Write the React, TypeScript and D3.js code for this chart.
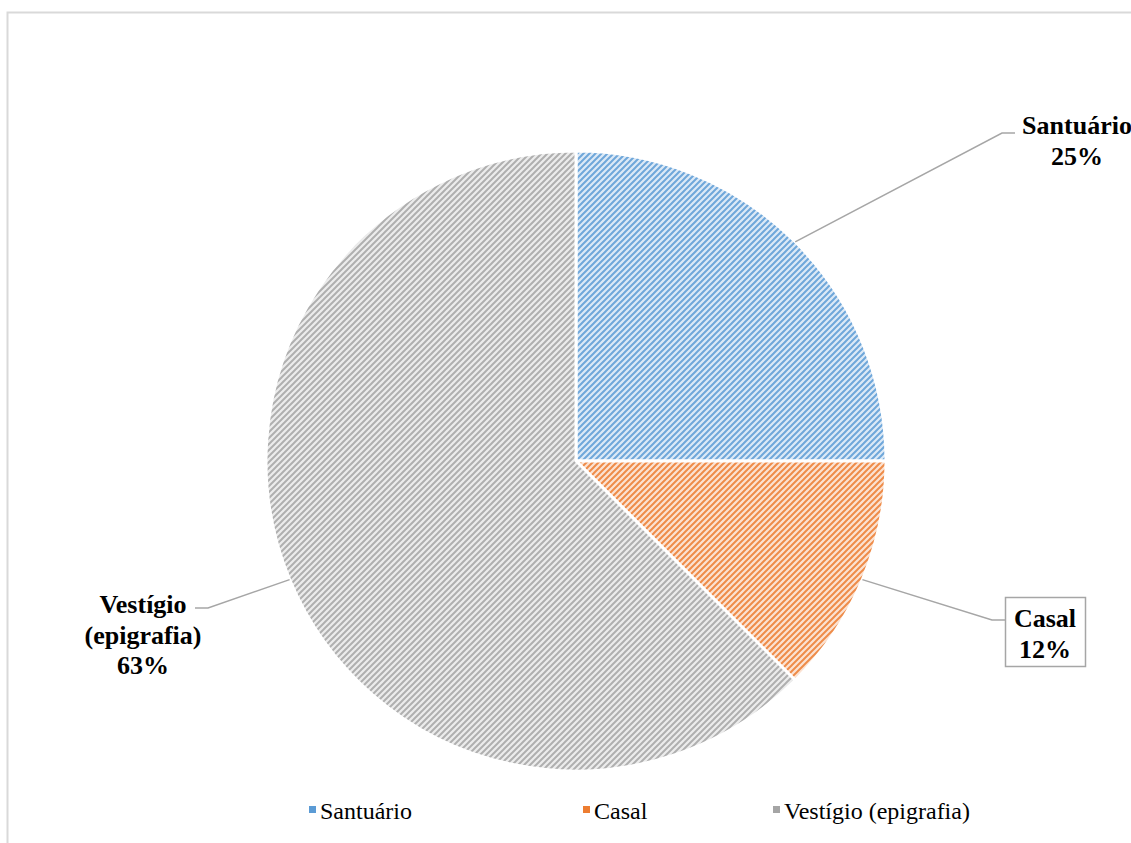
import React from "react";
import * as d3 from "d3";

const categories = ["Santuário", "Casal", "Vestígio (epigrafia)"];
const values = [25, 12.5, 62.5];
const labelLines = [["Santuário", "25%"], ["Casal", "12%"], ["Vestígio", "(epigrafia)", "63%"]];
const fgColors = ["#5B9BD5", "#ED7D31", "#A5A5A5"];
const bgColors = ["#DCE9F6", "#FBE2D2", "#ECECEC"];

const W = 1131, H = 843;
const cx = 576, cy = 461, R = 310;

export default function App() {
  const pie = d3.pie<number>().sort(null).value((d) => d)(values);
  const arc = d3.arc<d3.PieArcDatum<number>>().innerRadius(0).outerRadius(R);
  const font = "'Liberation Serif', Tinos, 'Times New Roman', Times, serif";

  const labelPos = [
    { x: 1077, y: 134, lead: [[1015, 133], [1002, 133]] },
    { x: 1045, y: 627, lead: [[1005, 620], [992, 620]], box: true },
    { x: 143, y: 613, lead: [[195, 608], [208, 608]] },
  ];

  return (
    <svg width={W} height={H} style={{ position: "absolute", left: 0, top: 0 }}>
      <defs>
        {fgColors.map((c, i) => (
          <pattern key={i} id={`pat${i}`} width={6} height={6} patternUnits="userSpaceOnUse">
            <rect width={6} height={6} fill={bgColors[i]} />
            <path d="M-1,7 L7,-1 M-4,4 L4,-4 M2,10 L10,2" stroke={c} strokeWidth={2} opacity={0.85} />
          </pattern>
        ))}
      </defs>
      <rect x={7.5} y={12.5} width={1300} height={1000} fill="#fff" stroke="#D9D9D9" strokeWidth={2} />
      <g transform={`translate(${cx},${cy})`}>
        {pie.map((p, i) => (
          <path key={i} d={arc(p) || ""} fill={`url(#pat${i})`} stroke="#fff" strokeWidth={3} />
        ))}
      </g>
      {pie.map((p, i) => {
        const mid = (p.startAngle + p.endAngle) / 2;
        const ex = cx + Math.sin(mid) * R;
        const ey = cy - Math.cos(mid) * R;
        const L = labelPos[i];
        const pts = [[ex, ey], L.lead[1], L.lead[0]];
        const lines = labelLines[i];
        return (
          <g key={i}>
            <polyline points={pts.map((q) => q.join(",")).join(" ")} fill="none" stroke="#A6A6A6" strokeWidth={1.5} />
            {L.box && <rect x={1005.5} y={597.5} width={80} height={69} fill="#fff" stroke="#A6A6A6" strokeWidth={1.5} />}
            {lines.map((t, j) => (
              <text key={j} x={L.x} y={L.y + j * 30.5} textAnchor="middle" fontFamily={font} fontWeight="bold" fontSize={26} fill="#000">
                {t}
              </text>
            ))}
          </g>
        );
      })}
      {categories.map((c, i) => {
        const lx = [309, 583, 773][i];
        return (
          <g key={c}>
            <rect x={lx} y={806} width={7} height={7} fill={fgColors[i]} />
            <text x={lx + 11} y={819} fontFamily={font} fontSize={24} fill="#000">{c}</text>
          </g>
        );
      })}
    </svg>
  );
}
